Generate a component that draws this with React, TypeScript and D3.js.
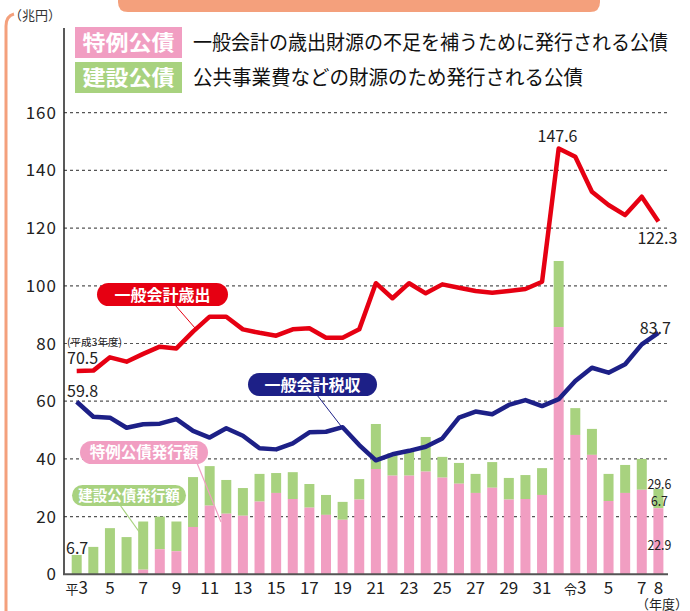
import React from "react";
import * as d3 from "d3";

const fiscalYears = [
  "平3","平4","平5","平6","平7","平8","平9","平10","平11","平12","平13","平14","平15","平16","平17","平18","平19","平20",
  "平21","平22","平23","平24","平25","平26","平27","平28","平29","平30","平31","令2","令3","令4","令5","令6","令7","令8",
];
const tickYears = ["平3","平5","平7","平9","平11","平13","平15","平17","平19","平21","平23","平25","平27","平29","平31","令3","令5","令7","令8"];
const tickTexts = ["平3","5","7","9","11","13","15","17","19","21","23","25","27","29","31","令3","5","7","8"];
const yTicks = [0, 20, 40, 60, 80, 100, 120, 140, 160];

// 特例公債発行額 (兆円)
const specialBonds = [0, 0, 0, 0, 1.6, 8.7, 8.0, 16.4, 23.8, 21.0, 20.3, 25.2, 28.2, 26.1, 23.1, 20.6, 18.9, 25.9,
  36.5, 34.2, 34.2, 35.6, 33.5, 31.4, 28.2, 30.0, 25.9, 26.1, 27.5, 85.7, 48.3, 41.4, 25.4, 28.2, 29.3, 22.9];
// 建設公債発行額 (兆円)
const constructionBonds = [6.7, 9.5, 16.0, 12.9, 16.7, 11.3, 10.3, 17.3, 13.7, 11.7, 9.6, 9.6, 6.9, 9.3, 8.2, 6.9, 6.2, 7.1,
  15.6, 7.8, 8.3, 12.0, 7.2, 7.2, 6.6, 8.9, 7.5, 8.3, 9.3, 22.9, 9.3, 9.0, 9.4, 9.7, 10.7, 6.7];
// 一般会計歳出
const expenditure = [70.5, 70.6, 75.2, 73.7, 76.4, 78.9, 78.3, 84.1, 89.3, 89.3, 84.9, 83.7, 82.7, 84.9, 85.3, 82.0, 82.0, 84.9,
  100.9, 95.7, 100.9, 97.4, 100.5, 99.3, 98.2, 97.6, 98.2, 98.9, 101.4, 147.6, 144.7, 132.6, 128.0, 124.5, 130.9, 122.3];
// 一般会計税収
const taxRevenue = [59.8, 54.6, 54.3, 50.8, 52.0, 52.2, 53.8, 49.7, 47.4, 50.6, 48.0, 43.7, 43.3, 45.4, 49.2, 49.4, 51.0, 44.8,
  39.5, 41.6, 42.8, 44.2, 47.1, 54.3, 56.4, 55.5, 58.7, 60.4, 58.3, 60.7, 67.0, 71.6, 69.9, 72.8, 79.7, 83.7];

const FONT = "'Noto Sans CJK JP', 'Noto Sans', sans-serif";
const PINK = "#F19EC2";
const GREEN = "#A8D27F";
const RED = "#E60012";
const NAVY = "#1D2087";
const SALMON = "#F4A07C";

export default function App() {
  const x = d3.scalePoint<string>().domain(fiscalYears).range([76.7, 658.4]);
  const y = d3.scaleLinear().domain([0, 160]).range([574.3, 112.7]);
  const barW = 10;
  const lineGen = d3
    .line<number>()
    .x((_, i) => x(fiscalYears[i]) as number)
    .y((d) => y(d));

  const last = fiscalYears.length - 1;
  const lastX = x(fiscalYears[last]) as number;

  return (
    <svg width={690} height={611} style={{ position: "absolute", left: 0, top: 0, fontFamily: FONT }}>
      <rect x={0} y={0} width={690} height={611} fill="#fff" />
      {/* frame */}
      <path d="M118,0 L118,2 Q118,12 128,12 L590,12 Q600,12 600,2 L600,0 Z" fill={SALMON} />
      <path d="M6,611 L6,26 Q6,16 14,14" fill="none" stroke={SALMON} strokeWidth={3} />
      <text x={9} y={20} fontSize={13} fill="#333">（兆円）</text>

      {/* legend */}
      <rect x={75} y={27} width={107} height={31} fill={PINK} />
      <text x={128.5} y={50} fontSize={21} fontWeight="bold" fill="#fff" textAnchor="middle" textLength={92} lengthAdjust="spacingAndGlyphs">特例公債</text>
      <text x={193} y={50} fontSize={20} fill="#111" textLength={475} lengthAdjust="spacingAndGlyphs">一般会計の歳出財源の不足を補うために発行される公債</text>
      <rect x={75} y={62} width={107} height={31} fill={GREEN} />
      <text x={128.5} y={85} fontSize={21} fontWeight="bold" fill="#fff" textAnchor="middle" textLength={92} lengthAdjust="spacingAndGlyphs">建設公債</text>
      <text x={193} y={85} fontSize={20} fill="#111" textLength={390} lengthAdjust="spacingAndGlyphs">公共事業費などの財源のため発行される公債</text>

      {/* grid */}
      {yTicks.filter((t) => t > 0).map((t) => (
        <line key={t} x1={64} x2={668} y1={y(t)} y2={y(t)} stroke="#555" strokeWidth={1.2} strokeDasharray="3,3" />
      ))}
      {yTicks.map((t) => (
        <text key={"l" + t} x={57} y={y(t) + 6} fontSize={17} fill="#222" textAnchor="end" letterSpacing={1}>{t}</text>
      ))}

      {/* bars */}
      {fiscalYears.map((fy, i) => {
        const cx = x(fy) as number;
        const total = specialBonds[i] + constructionBonds[i];
        return (
          <g key={fy}>
            <rect x={cx - barW / 2} y={y(total)} width={barW} height={y(specialBonds[i]) - y(total)} fill={GREEN} />
            {specialBonds[i] > 0 && (
              <rect x={cx - barW / 2} y={y(specialBonds[i])} width={barW} height={y(0) - y(specialBonds[i])} fill={PINK} />
            )}
          </g>
        );
      })}

      {/* axes */}
      <line x1={64} x2={64} y1={28} y2={575} stroke="#222" strokeWidth={1.5} />
      <line x1={63} x2={668} y1={y(0)} y2={y(0)} stroke="#555" strokeWidth={2} />
      {tickYears.map((fy, k) => (
        <text key={fy} x={x(fy) as number} y={593.5} fontSize={17} fill="#222" textAnchor="middle">
          {tickTexts[k].startsWith("平") || tickTexts[k].startsWith("令") ? (
            <>
              <tspan fontSize={13}>{tickTexts[k][0]}</tspan>
              <tspan>{tickTexts[k].slice(1)}</tspan>
            </>
          ) : (
            tickTexts[k]
          )}
        </text>
      ))}
      <text x={688} y={609} fontSize={13} fill="#222" textAnchor="end">（年度）</text>

      {/* callout leaders */}
      <line x1={175} y1={305} x2={195} y2={328} stroke={RED} strokeWidth={1} />
      <line x1={317} y1={395} x2={341} y2={426} stroke={NAVY} strokeWidth={1} />
      <line x1={197} y1={463} x2={221} y2={522} stroke={PINK} strokeWidth={1.2} />
      <line x1={120} y1={505} x2={140} y2={533} stroke={GREEN} strokeWidth={1.2} />

      {/* lines */}
      <path d={lineGen(expenditure) || ""} fill="none" stroke={RED} strokeWidth={4.5} strokeLinejoin="round" />
      <path d={lineGen(taxRevenue) || ""} fill="none" stroke={NAVY} strokeWidth={4.5} strokeLinejoin="round" />

      {/* callouts */}
      <rect x={97} y={283} width={131} height={23} rx={11.5} fill={RED} />
      <text x={162.5} y={300.5} fontSize={16} fontWeight="bold" fill="#fff" textAnchor="middle">一般会計歳出</text>
      <rect x={248} y={373} width={129} height={23} rx={11.5} fill={NAVY} />
      <text x={312.5} y={390.5} fontSize={16} fontWeight="bold" fill="#fff" textAnchor="middle">一般会計税収</text>
      <rect x={80} y={441} width={128} height={23} rx={11.5} fill={PINK} />
      <text x={144} y={458} fontSize={15.5} fontWeight="bold" fill="#fff" textAnchor="middle">特例公債発行額</text>
      <rect x={72} y={485} width={114} height={21} rx={10.5} fill={GREEN} />
      <text x={129} y={501} fontSize={14.5} fontWeight="bold" fill="#fff" textAnchor="middle">建設公債発行額</text>

      {/* value labels */}
      <text x={67} y={346} fontSize={10.5} fill="#222">(平成3年度)</text>
      <text x={67} y={364} fontSize={16} fill="#222">{expenditure[0]}</text>
      <text x={67} y={397} fontSize={16} fill="#222">{taxRevenue[0]}</text>
      <text x={66} y={554} fontSize={16} fill="#222">{(specialBonds[0] + constructionBonds[0]).toFixed(1)}</text>
      <text x={557.5} y={142} fontSize={16} fill="#222" textAnchor="middle">{d3.max(expenditure)}</text>
      <text x={lastX - 1} y={244} fontSize={16} fill="#222" textAnchor="middle">{expenditure[last]}</text>
      <text x={lastX - 3} y={333.5} fontSize={16} fill="#222" textAnchor="middle">{taxRevenue[last]}</text>
      <text x={lastX + 1} y={489} fontSize={14} fill="#222" textAnchor="middle" textLength={24} lengthAdjust="spacingAndGlyphs">{(specialBonds[last] + constructionBonds[last]).toFixed(1)}</text>
      <text x={lastX + 1} y={506} fontSize={14} fill="#222" textAnchor="middle" textLength={17} lengthAdjust="spacingAndGlyphs">{constructionBonds[last].toFixed(1)}</text>
      <text x={lastX + 1} y={550} fontSize={14} fill="#222" textAnchor="middle" textLength={24} lengthAdjust="spacingAndGlyphs">{specialBonds[last].toFixed(1)}</text>
    </svg>
  );
}
